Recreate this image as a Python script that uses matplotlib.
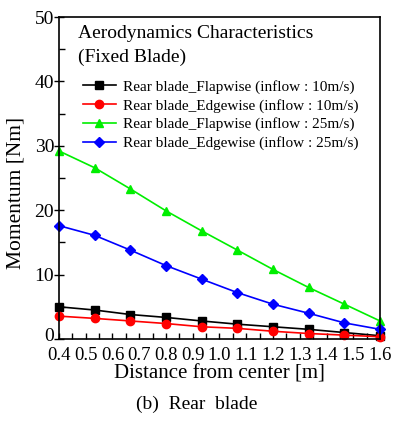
import numpy as np
import matplotlib.pyplot as plt
import matplotlib.transforms as mtransforms
from matplotlib.ticker import MultipleLocator

plt.rcParams['font.family'] = ['Liberation Serif', 'DejaVu Serif']

# distance from center [m]
distance = [0.4, 0.533, 0.667, 0.8, 0.933, 1.067, 1.2, 1.333, 1.467, 1.6]

flap_10 = [5.0, 4.5, 3.8, 3.35, 2.8, 2.3, 1.9, 1.5, 1.0, 0.5]
edge_10 = [3.55, 3.2, 2.8, 2.4, 1.9, 1.65, 1.2, 0.85, 0.6, 0.35]
flap_25 = [29.2, 26.6, 23.3, 19.9, 16.8, 13.8, 10.8, 8.0, 5.4, 2.8]
edge_25 = [17.6, 16.1, 13.8, 11.4, 9.3, 7.2, 5.4, 4.0, 2.5, 1.5]

labels = ['Rear blade_Flapwise (inflow : 10m/s)',
          'Rear blade_Edgewise (inflow : 10m/s)',
          'Rear blade_Flapwise (inflow : 25m/s)',
          'Rear blade_Edgewise (inflow : 25m/s)']
colours = ['black', 'red', '#00ee00', 'blue']
markers = ['s', 'o', '^', 'D']
xticks = [0.4, 0.5, 0.6, 0.7, 0.8, 0.9, 1.0, 1.1, 1.2, 1.3, 1.4, 1.5, 1.6]
yticks = [0, 10, 20, 30, 40, 50]

fig = plt.figure(figsize=(3.93, 4.32), dpi=100)
ax = fig.add_axes([0.150, 0.2153, 0.817, 0.7453])

for ys, lab, c, m in zip([flap_10, edge_10, flap_25, edge_25], labels, colours, markers):
    ax.plot(distance, ys, color=c, marker=m, markersize=6 if m != 'D' else 5.5,
            linewidth=1.2, label=lab, clip_on=False)

ax.set_xlim(0.4, 1.6)
ax.set_ylim(0, 50)
ax.set_xticks(xticks)
ax.set_xticklabels(['%.1f' % v for v in xticks])
ax.set_yticks(yticks)
ax.set_yticklabels([str(v) for v in yticks])
ax.xaxis.set_minor_locator(MultipleLocator(0.05))
ax.yaxis.set_minor_locator(MultipleLocator(5))

ax.tick_params(axis='x', which='both', direction='in', length=4, width=1, labelsize=13.5, pad=6)
ax.tick_params(axis='y', which='major', direction='inout', length=7, width=1, labelsize=14, pad=0)
ax.tick_params(axis='y', which='minor', direction='in', length=4, width=1)
for s in ax.spines.values():
    s.set_linewidth(1.2)

# lift the "0" on the y axis a little so it sits clear of "0.4"
zero_lbl = ax.yaxis.get_major_ticks()[0].label1
zero_lbl.set_transform(zero_lbl.get_transform() +
                       mtransforms.ScaledTranslation(0, 3 / 72, fig.dpi_scale_trans))

ax.set_xlabel('Distance from center [m]', fontsize=15, labelpad=0)
ax.set_ylabel('Momentum [Nm]', fontsize=15.5, labelpad=1)
ax.yaxis.set_label_coords(-0.105, 0.453)

ax.text(0.059, 0.975, 'Aerodynamics Characteristics\n(Fixed Blade)', transform=ax.transAxes,
        fontsize=14, va='top', ha='left', linespacing=1.5)

ax.legend(loc='upper left', bbox_to_anchor=(0.075, 0.805), frameon=False, fontsize=11,
          handlelength=2.15, handletextpad=0.45, labelspacing=0.32, borderpad=0, borderaxespad=0)

fig.text(0.5, 0.063, '(b)  Rear  blade', ha='center', va='center', fontsize=14)

fig.savefig('out.png', dpi=100)
